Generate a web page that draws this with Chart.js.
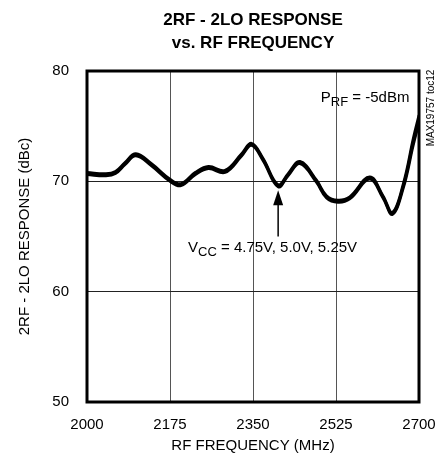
<!DOCTYPE html>
<html><head><meta charset="utf-8">
<script src="https://cdn.jsdelivr.net/npm/chart.js@4"></script>
<style>html,body{margin:0;padding:0;background:#fff}#wrap{width:446px;height:464px}</style>
</head><body><div id="wrap"><canvas id="c" width="446" height="464"></canvas></div>
<script>
const freqMHz = [2000,2040,2060,2080,2103,2136,2175,2198,2228,2256,2291,2326,2347,2371,2403,2424,2449,2484,2505,2529,2554,2596,2624,2644,2667,2688,2700];
const resp475 = [70.6,70.5,70.7,71.5,72.3,71.4,70.0,69.6,70.6,71.15,70.8,72.3,73.25,71.9,69.5,70.5,71.6,69.9,68.5,68.1,68.4,70.2,68.5,67.0,69.4,73.3,75.3];
const resp500 = [70.7,70.6,70.8,71.6,72.4,71.5,70.1,69.7,70.7,71.25,70.9,72.4,73.35,72.0,69.6,70.6,71.7,70.0,68.6,68.2,68.5,70.3,68.6,67.1,69.6,73.6,75.7];
const resp525 = [70.8,70.7,70.9,71.7,72.5,71.6,70.2,69.8,70.8,71.35,71.0,72.5,73.45,72.1,69.7,70.7,71.8,70.1,68.7,68.3,68.6,70.4,68.7,67.2,69.8,73.9,76.0];
const xTicks = [2000,2175,2350,2525,2700];
const yTicks = [50,60,70,80];
const seriesLabels = ['VCC = 4.75V','VCC = 5.0V','VCC = 5.25V'];
const titleLines = ['2RF - 2LO RESPONSE','vs. RF FREQUENCY'];
const xTitle = 'RF FREQUENCY (MHz)';
const yTitle = '2RF - 2LO RESPONSE (dBc)';

const FONT = '"Liberation Sans", Arial, sans-serif';
const series = [resp475, resp500, resp525];
const datasets = series.map((s,i)=>({
  label: seriesLabels[i],
  data: freqMHz.map((f,j)=>({x:f,y:s[j]})),
  borderColor:'#000', borderWidth:2.8, pointRadius:0, tension:0.4, fill:false
}));

const deco = {
  id:'deco',
  afterDraw(chart){
    const ctx = chart.ctx, a = chart.chartArea;
    const xs = chart.scales.x, ys = chart.scales.y;
    ctx.save();
    ctx.strokeStyle='#000'; ctx.lineWidth=3;
    ctx.strokeRect(a.left, a.top, a.right-a.left, a.bottom-a.top);
    ctx.fillStyle='#000';
    ctx.textAlign='center'; ctx.textBaseline='middle';
    ctx.font='bold 17px '+FONT;
    const cx=(a.left+a.right)/2;
    ctx.fillText(titleLines[0], cx, 20);
    ctx.fillText(titleLines[1], cx, 43);
    ctx.font='15px '+FONT;
    ctx.fillText(xTitle, cx, 446);
    ctx.save();
    ctx.translate(25,(a.top+a.bottom)/2); ctx.rotate(-Math.PI/2);
    ctx.fillText(yTitle,0,0);
    ctx.restore();
    ctx.save();
    ctx.translate(431,108); ctx.rotate(-Math.PI/2);
    ctx.font='10px '+FONT; ctx.fillText('MAX19757 toc12',0,0);
    ctx.restore();
    ctx.textAlign='left'; ctx.textBaseline='alphabetic';
    let x = xs.getPixelForValue(2493), y = ys.getPixelForValue(77.2);
    ctx.font='15px '+FONT; ctx.fillText('P',x,y); x+=ctx.measureText('P').width;
    ctx.font='13px '+FONT; ctx.fillText('RF',x,y+4); x+=ctx.measureText('RF').width;
    ctx.font='15px '+FONT; ctx.fillText(' = -5dBm',x,y);
    x = xs.getPixelForValue(2213); y = ys.getPixelForValue(63.6);
    ctx.font='15px '+FONT; ctx.fillText('V',x,y); x+=ctx.measureText('V').width;
    ctx.font='13px '+FONT; ctx.fillText('CC',x,y+4); x+=ctx.measureText('CC').width;
    ctx.font='15px '+FONT; ctx.fillText(' = 4.75V, 5.0V, 5.25V',x,y);
    const ax = xs.getPixelForValue(2403), tip = ys.getPixelForValue(69.2), bot = ys.getPixelForValue(65.0);
    ctx.strokeStyle='#000'; ctx.lineWidth=1.5;
    ctx.beginPath(); ctx.moveTo(ax,bot); ctx.lineTo(ax,tip+12); ctx.stroke();
    ctx.beginPath(); ctx.moveTo(ax,tip); ctx.lineTo(ax-5,tip+15); ctx.lineTo(ax+5,tip+15); ctx.closePath(); ctx.fill();
    ctx.restore();
  }
};

new Chart(document.getElementById('c'), {
  type:'line',
  data:{datasets},
  options:{
    responsive:false, animation:false, devicePixelRatio:1,
    layout:{padding:{left:0,top:71,right:27,bottom:0}},
    plugins:{legend:{display:false},tooltip:{enabled:false},title:{display:false}},
    scales:{
      x:{type:'linear',min:2000,max:2700,
        afterBuildTicks(s){s.ticks=xTicks.map(v=>({value:v}));},
        afterFit(s){s.height=62;s.paddingLeft=0;s.paddingRight=0;},
        grid:{color:'#555',lineWidth:1,drawTicks:false},
        border:{display:false},
        ticks:{color:'#000',font:{family:FONT,size:15},padding:14,maxRotation:0,callback:v=>String(v)}},
      y:{min:50,max:80,
        afterBuildTicks(s){s.ticks=yTicks.map(v=>({value:v}));},
        afterFit(s){s.width=87;s.paddingTop=0;s.paddingBottom=0;},
        grid:{color:'#222',lineWidth:1,drawTicks:false},
        border:{display:false},
        ticks:{color:'#000',font:{family:FONT,size:15},padding:18,callback:v=>String(v)}}
    }
  },
  plugins:[deco]
});
</script></body></html>
